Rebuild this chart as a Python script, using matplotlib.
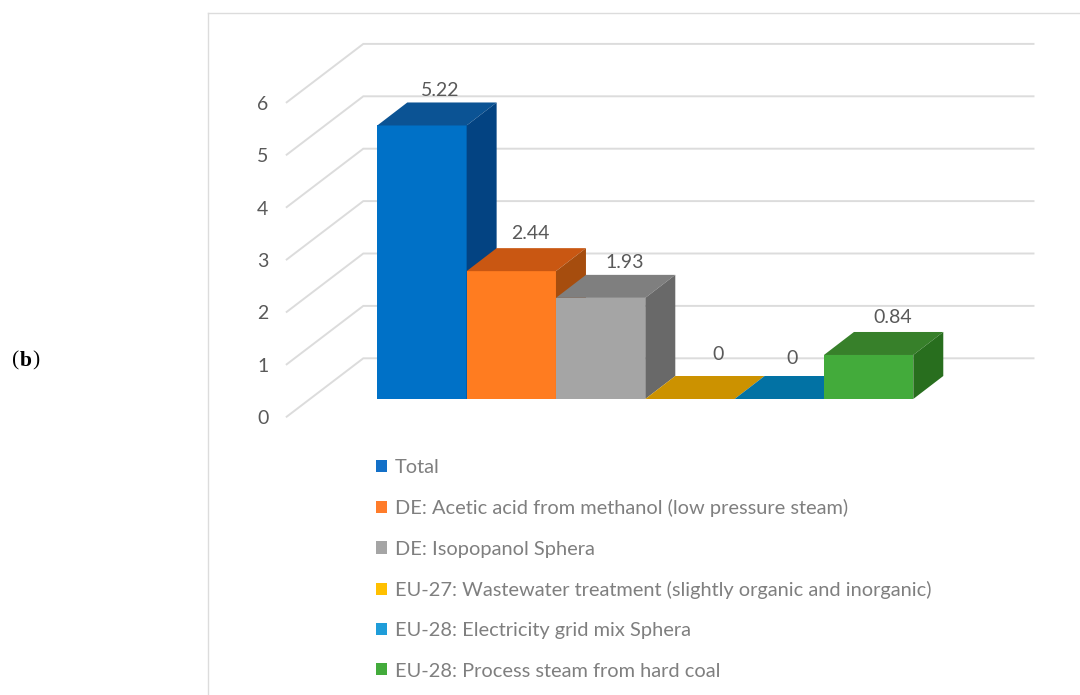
import matplotlib
matplotlib.use("Agg")
from matplotlib import pyplot as plt
from matplotlib.patches import Patch

# valeurs du graphique
noms = ["Total",
        "DE: Acetic acid from methanol (low pressure steam)",
        "DE: Isopopanol Sphera",
        "EU-27: Wastewater treatment (slightly organic and inorganic)",
        "EU-28: Electricity grid mix Sphera",
        "EU-28: Process steam from hard coal"]
valeurs = [5.22, 2.44, 1.93, 0, 0, 0.84]
etiquettes = ["5.22", "2.44", "1.93", "0", "0", "0.84"]
graduations = [0, 1, 2, 3, 4, 5, 6]

# couleurs : legende, face, dessus, cote
c_legende = ["#1370C8", "#FF7C2A", "#A5A5A5", "#FFC000", "#1F9DD9", "#43AB3B"]
c_face = ["#0071C7", "#FF7C20", "#A5A5A5", "#FFC000", "#1F9DD9", "#43AB3B"]
c_dessus = ["#0B5394", "#C95712", "#7F7F7F", "#CC9200", "#0272A4", "#37802A"]
c_cote = ["#034382", "#A64D0E", "#696969", "#A67700", "#015F88", "#286E1E"]

# decalage des etiquettes (pixels) par rapport au sommet de la barre
decal_x = [18, 19.5, 24, 28, 12.5, 24.5]
decal_y = [35, 38, 35, 45, 41, 37]

# echelle : pixels par categorie et par unite
PX_X = 89.33
PX_Y = 52.4
X0 = 377.3  # bord gauche de la premiere barre
Y0 = 399.0  # base des barres
W, H = 1080, 695

fig = plt.figure(figsize=(W / 100, H / 100), dpi=100)
ax = fig.add_axes([0, 0, 1, 1])
ax.set_xlim(-0.5 - X0 / PX_X, -0.5 + (W - X0) / PX_X)
ax.set_ylim(-(H - Y0) / PX_Y, Y0 / PX_Y)
ax.axis("off")

plt.rcParams["font.family"] = ["Lato", "DejaVu Sans"]

# profondeur des barres
prof_x = 30 / PX_X
prof_y = 23 / PX_Y

# parois : lignes obliques puis horizontales
gris = "#DCDCDC"
x_avant = -0.5 + (286.7 - X0) / PX_X
x_fond = -0.5 + (363.3 - X0) / PX_X
x_fin = -0.5 + (1033.5 - X0) / PX_X
y_avant = -17.7 / PX_Y
y_fond = 40.7 / PX_Y
for g in graduations:
    ax.plot([x_avant, x_fond, x_fin], [g + y_avant, g + y_fond, g + y_fond],
            color=gris, lw=1.4, zorder=0, solid_joinstyle="miter")
    ax.text(x_avant - 24 / PX_X, g + y_avant - 2 / PX_Y, str(g), color="#595959", fontsize=14,
            ha="center", va="center")

# barres, de gauche a droite
for i, v in enumerate(valeurs):
    g, d = i - 0.5, i + 0.5
    ax.bar(i, v, width=1, color=c_face[i], linewidth=0)
    ax.fill([g, d, d + prof_x, g + prof_x], [v, v, v + prof_y, v + prof_y],
            color=c_dessus[i], linewidth=0)
    if v > 0:
        ax.fill([d, d + prof_x, d + prof_x, d], [0, prof_y, v + prof_y, v],
                color=c_cote[i], linewidth=0)
    ax.annotate(etiquettes[i], (i, v), xytext=(decal_x[i], decal_y[i]),
                textcoords="offset pixels", ha="center", va="center",
                color="#595959", fontsize=14)

# legende
poignees = [Patch(color=c, linewidth=0) for c in c_legende]
leg = ax.legend(poignees, noms, loc="upper left", frameon=False,
                bbox_to_anchor=(376 / W, 1 - 459 / H), bbox_transform=fig.transFigure,
                fontsize=14.45, labelcolor="#7F7F7F", borderpad=0, borderaxespad=0,
                handlelength=0.55, handleheight=0.55, handletextpad=0.4, labelspacing=1.16)

# cadre du graphique
ax.plot([-0.5 + (208.5 - X0) / PX_X] * 2, [ax.get_ylim()[0], (Y0 - 12.5) / PX_Y], color=gris, lw=1.0)
ax.plot([-0.5 + (208.5 - X0) / PX_X, ax.get_xlim()[1]], [(Y0 - 12.5) / PX_Y] * 2, color=gris, lw=1.0)

fig.text(19 / W, 1 - 361 / H, "(", family="Liberation Serif", fontsize=15.5, ha="right", va="center", color="black")
fig.text(25.5 / W, 1 - 361 / H, "b", family="Liberation Serif", fontsize=15.5, weight="bold", ha="center", va="center", color="black")
fig.text(32 / W, 1 - 361 / H, ")", family="Liberation Serif", fontsize=15.5, ha="left", va="center", color="black")

fig.savefig("out.png", dpi=100)
